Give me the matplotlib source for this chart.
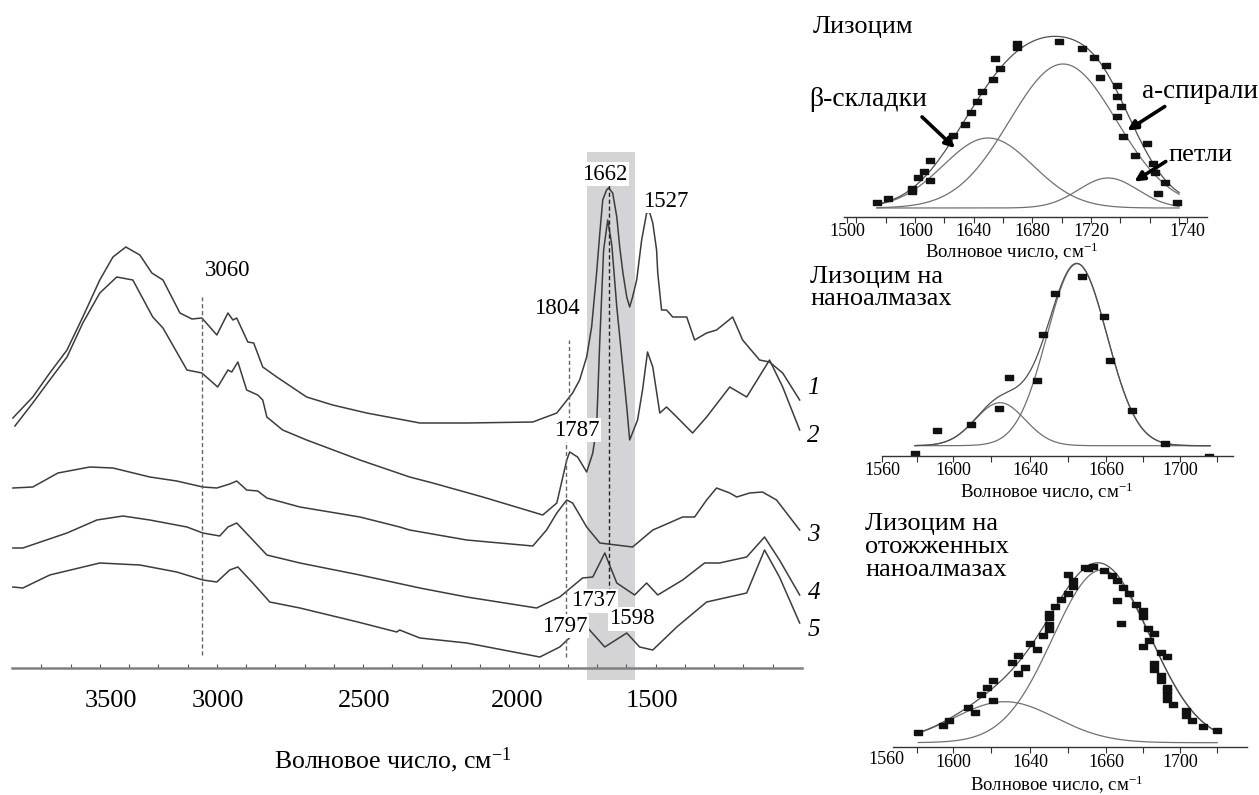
import numpy as np
import matplotlib
matplotlib.use('Agg')
import matplotlib.pyplot as plt

plt.rcParams['font.family'] = ['Liberation Serif', 'DejaVu Serif']
plt.rcParams['mathtext.fontset'] = 'custom'
plt.rcParams['mathtext.rm'] = 'Liberation Serif'
plt.rcParams['mathtext.it'] = 'Liberation Serif:italic'

# ---- main IR spectra (wavenumber, cm-1 / absorbance, offset a.u.)
wn1 = [3697, 3629, 3571, 3512, 3458, 3400, 3355, 3311, 3263, 3222, 3184, 3126, 3085, 3051, 3000,
       2962, 2945, 2932, 2894, 2874, 2843, 2795, 2693, 2604, 2488, 2306, 2146, 1920, 1838, 1784,
       1760, 1736, 1719, 1702, 1691, 1681, 1668, 1661, 1647, 1633, 1623, 1612, 1599, 1589, 1579,
       1565, 1548, 1531, 1521, 1510, 1497, 1493, 1480, 1463, 1442, 1418, 1394, 1367, 1326, 1292,
       1237, 1203, 1145, 1111, 1066, 1008]
ab1 = [2.50, 2.71, 2.95, 3.18, 3.51, 3.88, 4.11, 4.21, 4.13, 3.95, 3.88, 3.55, 3.49, 3.50, 3.33,
       3.55, 3.48, 3.50, 3.26, 3.25, 3.01, 2.91, 2.71, 2.63, 2.55, 2.45, 2.45, 2.46, 2.55, 2.75,
       2.88, 3.11, 3.41, 3.95, 4.35, 4.68, 4.78, 4.80, 4.75, 4.51, 4.21, 3.95, 3.71, 3.61, 3.71,
       3.88, 4.28, 4.55, 4.56, 4.45, 4.18, 3.95, 3.58, 3.58, 3.51, 3.51, 3.51, 3.28, 3.35, 3.38,
       3.51, 3.28, 3.08, 3.06, 2.95, 2.68]

wn2 = [3690, 3629, 3571, 3512, 3458, 3400, 3342, 3287, 3219, 3184, 3102, 3051, 2997, 2962, 2949,
       2928, 2898, 2860, 2843, 2829, 2775, 2693, 2511, 2341, 2262, 2091, 1886, 1838, 1804, 1794,
       1767, 1736, 1715, 1702, 1691, 1678, 1664, 1650, 1633, 1616, 1599, 1589, 1562, 1545, 1528,
       1510, 1486, 1463, 1428, 1374, 1326, 1247, 1189, 1111, 1066, 1008]
ab2 = [2.42, 2.65, 2.88, 3.11, 3.45, 3.75, 3.91, 3.88, 3.51, 3.40, 2.98, 2.95, 2.81, 2.98, 2.96,
       3.06, 2.78, 2.73, 2.68, 2.51, 2.38, 2.28, 2.08, 1.91, 1.85, 1.71, 1.53, 1.65, 2.08, 2.16,
       2.11, 1.96, 2.15, 2.41, 3.28, 4.18, 4.48, 4.23, 3.61, 3.11, 2.61, 2.28, 2.48, 2.78, 3.16,
       3.01, 2.55, 2.61, 2.51, 2.35, 2.51, 2.81, 2.71, 3.08, 2.81, 2.38]

wn3 = [3697, 3629, 3543, 3434, 3355, 3229, 3137, 3048, 3000, 2956, 2932, 2898, 2860, 2829, 2716,
       2511, 2375, 2341, 2146, 1920, 1873, 1838, 1804, 1784, 1736, 1691, 1579, 1510, 1486, 1408,
       1367, 1326, 1292, 1247, 1223, 1179, 1135, 1087, 1008]
ab3 = [1.80, 1.81, 1.95, 2.01, 2.00, 1.91, 1.87, 1.81, 1.80, 1.84, 1.87, 1.78, 1.77, 1.70, 1.61,
       1.51, 1.41, 1.38, 1.28, 1.22, 1.38, 1.55, 1.68, 1.65, 1.41, 1.25, 1.21, 1.38, 1.41, 1.51,
       1.51, 1.68, 1.80, 1.75, 1.71, 1.75, 1.76, 1.68, 1.38]

wn4 = [3697, 3663, 3512, 3410, 3321, 3229, 3102, 3048, 2990, 2962, 2932, 2877, 2829, 2716, 2511,
       2306, 2146, 1907, 1828, 1750, 1715, 1674, 1633, 1572, 1531, 1493, 1408, 1333, 1282, 1189,
       1128, 1077, 1008]
ab4 = [1.20, 1.20, 1.35, 1.48, 1.52, 1.48, 1.41, 1.35, 1.32, 1.41, 1.45, 1.28, 1.13, 1.05, 0.93,
       0.80, 0.71, 0.60, 0.71, 0.90, 0.91, 1.15, 0.85, 0.73, 0.85, 0.73, 0.88, 1.05, 1.05, 1.11,
       1.31, 1.08, 0.73]

wn5 = [3697, 3663, 3571, 3400, 3263, 3137, 3048, 3000, 2956, 2928, 2877, 2819, 2716, 2518, 2385,
       2375, 2306, 2146, 1896, 1828, 1784, 1753, 1732, 1674, 1599, 1555, 1510, 1428, 1326, 1189,
       1128, 1077, 1008]
ab5 = [0.81, 0.80, 0.93, 1.05, 1.03, 0.96, 0.88, 0.86, 0.98, 1.01, 0.85, 0.66, 0.60, 0.46, 0.36,
       0.38, 0.30, 0.25, 0.11, 0.21, 0.33, 0.40, 0.40, 0.21, 0.35, 0.21, 0.18, 0.41, 0.66, 0.75,
       1.18, 0.91, 0.45]

curve_num = ['1', '2', '3', '4', '5']
curve_num_y = [2.80, 2.32, 1.33, 0.75, 0.38]

peak_lbl = ['3060', '1804', '1662', '1527', '1787', '1737', '1598', '1797']
peak_x = [2962, 1838, 1674, 1466, 1770, 1712, 1582, 1811]
peak_y = [3.98, 3.60, 4.94, 4.67, 2.38, 0.67, 0.49, 0.42]

guide_x = [3050, 1797, 1805, 1661]
guide_y0 = [0.13, 2.48, 0.11, 0.48]
guide_y1 = [3.71, 3.28, 2.28, 4.85]

band_lo, band_hi = 1570, 1734

main_tick_pos = [3362, 2997, 2498, 1972, 1514]
main_tick_lbl = ['3500', '3000', '2500', '2000', '1500']

# ---- amide I deconvolution insets
# inset 1: lysozyme
x1s = [1573.9, 1581.8, 1597.8, 1598.2, 1602.3, 1606.1, 1610.2, 1610.2, 1625.7, 1634.1, 1638.2, 1642.1,
       1645.5, 1653.4, 1654.5, 1657.9, 1669.7, 1669.7, 1698.4, 1714.0, 1722.0, 1730.0, 1726.1, 1737.9,
       1737.9, 1740.2, 1737.9, 1750.6, 1742.0, 1750.0, 1757.9, 1762.0, 1763.6, 1770.4, 1765.8, 1778.4]
y1s = [0.06, 0.10, 0.17, 0.20, 0.31, 0.37, 0.48, 0.28, 0.73, 0.84, 0.96, 1.07,
       1.17, 1.29, 1.50, 1.40, 1.65, 1.61, 1.67, 1.60, 1.51, 1.43, 1.31, 1.23,
       1.12, 1.02, 0.92, 0.84, 0.72, 0.53, 0.65, 0.45, 0.36, 0.26, 0.15, 0.06]
c1 = [1649.8, 1700.9, 1731.6]   # beta-sheets, alpha-helices, loops
h1 = [0.70, 1.44, 0.30]
w1 = [72.3, 85.9, 47.7]
rng1 = (1574, 1780)
tick1_pos = [1553.6, 1600, 1640, 1680, 1720, 1785.4]
tick1_lbl = ['1500', '1600', '1640', '1680', '1720', '1740']

# inset 2: lysozyme on nanodiamonds
x2s = [1574.9, 1585.3, 1600.9, 1614.1, 1618.9, 1632.0, 1634.8, 1640.3, 1653.0, 1663.1, 1665.9, 1676.1,
       1691.6, 1712.3]
y2s = [-0.07, 0.16, 0.22, 0.38, 0.69, 0.66, 1.12, 1.53, 1.70, 1.30, 0.86, 0.36, 0.03, -0.10]
c2 = [1614.6, 1650.5]
h2 = [0.43, 1.82]
w2 = [27.5, 33.0]
rng2 = (1574.9, 1712.6)

# inset 3: lysozyme on annealed nanodiamonds
x3s = [1576.5, 1588.2, 1590.9, 1599.8, 1602.9, 1605.6, 1608.4, 1611.5, 1611.5, 1620.1, 1623.1, 1623.0,
       1626.3, 1628.6, 1631.7, 1634.8, 1637.6, 1637.6, 1637.6, 1637.6, 1640.3, 1642.9, 1646.2, 1646.2,
       1648.8, 1648.9, 1654.3, 1655.8, 1657.9, 1663.1, 1666.7, 1669.3, 1669.4, 1672.1, 1674.9, 1670.9,
       1678.1, 1681.2, 1681.2, 1681.2, 1683.8, 1684.3, 1686.5, 1689.6, 1692.7, 1686.5, 1686.5, 1689.6,
       1689.6, 1692.7, 1692.7, 1692.7, 1692.7, 1695.2, 1701.4, 1701.4, 1704.0, 1709.5, 1715.7]
y3s = [0.11, 0.18, 0.23, 0.36, 0.31, 0.49, 0.56, 0.63, 0.43, 0.81, 0.88, 0.70,
       0.76, 1.00, 0.94, 1.08, 1.14, 1.19, 1.26, 1.30, 1.37, 1.44, 1.50, 1.69,
       1.57, 1.63, 1.76, 1.75, 1.77, 1.73, 1.68, 1.63, 1.43, 1.56, 1.50, 1.20,
       1.39, 1.33, 1.27, 0.97, 1.15, 1.03, 1.10, 0.91, 0.87, 0.80, 0.74, 0.68,
       0.63, 0.56, 0.53, 0.49, 0.44, 0.39, 0.33, 0.28, 0.23, 0.17, 0.13]
c3 = [1616.9, 1662.1]
h3 = [0.41, 1.727]
w3 = [56.0, 53.9]
rng3 = (1576.5, 1716.0)
tick23_pos = [1559.5, 1592.7, 1628.6, 1664.1, 1698.6]
tick23_lbl = ['1560', '1600', '1640', '1660', '1700']
minor23 = [1575.9, 1610.4, 1646.3, 1681.3, 1715.9]

W, H = 1259, 795


def box(x0, y0, x1, y1):
    return [x0 / W, 1 - y1 / H, (x1 - x0) / W, (y1 - y0) / H]


def band(x, c, h, fwhm):
    return h * np.exp(-4 * np.log(2) * (x - c) ** 2 / fwhm ** 2)


fig = plt.figure(figsize=(W / 100, H / 100), dpi=100)

# ================= main spectra =================
ax = fig.add_axes(box(12, 140, 802, 690))
ax.set_xlim(3700, 1000)
ax.set_ylim(-0.22, 5.28)
for s in ['left', 'right', 'top']:
    ax.spines[s].set_visible(False)
ax.spines['bottom'].set_position(('data', 0))
ax.spines['bottom'].set_color('#808080')
ax.spines['bottom'].set_linewidth(1.8)
ax.set_yticks([])
ax.set_xticks(main_tick_pos, main_tick_lbl)
ax.set_xticks(np.arange(3600, 1050, -100), minor=True)
ax.tick_params(axis='x', which='major', length=0, pad=16, labelsize=19)
ax.tick_params(axis='x', which='minor', direction='in', length=3, width=0.8, color='#555')

ax.fill_betweenx([-0.12, 5.16], band_hi, band_lo, color='#d4d4d6', lw=0, zorder=0)

for wn, ab in [(wn1, ab1), (wn2, ab2), (wn3, ab3), (wn4, ab4), (wn5, ab5)]:
    ax.plot(wn, ab, color='#3c3c3c', lw=1.1, zorder=3)

for i, gx in enumerate(guide_x):
    col = '#222' if i == 3 else '#666'
    ax.plot([gx, gx], [guide_y0[i], guide_y1[i]], color=col, lw=1.0, ls=(0, (3, 2)), zorder=4)

for t, px, py in zip(peak_lbl, peak_x, peak_y):
    ax.text(px, py, t, ha='center', va='center', fontsize=16.5, zorder=6,
            bbox=dict(facecolor='white', edgecolor='none', pad=1.0))

for t, py in zip(curve_num, curve_num_y):
    ax.text(960, py, t, ha='center', va='center', fontsize=18, style='italic', clip_on=False)

fig.text(393 / W, 1 - 760 / H, 'Волновое число, см$^{-1}$', ha='center', va='center', fontsize=18.5)

rect_marker = [(-1, -0.6), (1, -0.6), (1, 0.6), (-1, 0.6), (-1, -0.6)]


def inset(rect, xlim, ylim, xs, ys, cs, hs, ws, rng, tpos, tlbl, minor):
    a = fig.add_axes(rect)
    a.set_xlim(*xlim)
    a.set_ylim(*ylim)
    for s in ['left', 'right', 'top']:
        a.spines[s].set_visible(False)
    a.spines['bottom'].set_color('#333')
    a.spines['bottom'].set_linewidth(1.0)
    a.set_yticks([])
    a.set_xticks(tpos, tlbl)
    a.set_xticks(minor, minor=True)
    a.tick_params(axis='x', which='both', direction='out', length=4, width=0.8, color='#333',
                  labelsize=13, pad=0.5)
    xx = np.linspace(rng[0], rng[1], 400)
    total = np.zeros_like(xx)
    for c, h, w in zip(cs, hs, ws):
        comp = band(xx, c, h, w)
        total += comp
        a.plot(xx, comp, color='#707070', lw=0.9)
    a.plot(xx, total, color='#505050', lw=0.9)
    a.plot(xs, ys, ls='none', marker=rect_marker, ms=6, color='#111')
    return a


# ---- inset 1
a1 = inset(box(844, 10, 1207, 217), (1551.6, 1799.0), (-0.09, 1.98), x1s, y1s, c1, h1, w1, rng1,
           tick1_pos, tick1_lbl, np.arange(1560, 1800, 20))
fig.text(813 / W, 1 - 27 / H, 'Лизоцим', ha='left', va='center', fontsize=19)
fig.text(868 / W, 1 - 100 / H, 'β-складки', ha='center', va='center', fontsize=20)
fig.text(1200 / W, 1 - 92 / H, 'а-спирали', ha='center', va='center', fontsize=19.5)
fig.text(1201 / W, 1 - 155 / H, 'петли', ha='center', va='center', fontsize=19)
fig.text(1012 / W, 1 - 252 / H, 'Волновое число, см$^{-1}$', ha='center', va='center', fontsize=13.5)
arrow = dict(arrowstyle='-|>', color='black', lw=2.6, mutation_scale=14)
a1.annotate('', xy=(1628.6, 0.58), xytext=(1603.4, 0.93), arrowprops=arrow, annotation_clip=False)
a1.annotate('', xy=(1743.1, 0.76), xytext=(1771.8, 1.03), arrowprops=arrow, annotation_clip=False)
a1.annotate('', xy=(1747.9, 0.25), xytext=(1772.5, 0.48), arrowprops=arrow, annotation_clip=False)

# ---- inset 2
inset(box(882, 255, 1233, 456), (1559.5, 1723.3), (-0.103, 1.907), x2s, y2s, c2, h2, w2, rng2,
      tick23_pos, tick23_lbl, minor23)
fig.text(810 / W, 1 - 288 / H, 'Лизоцим на\nнаноалмазах', ha='left', va='center', fontsize=19,
         linespacing=1.03)
fig.text(1047 / W, 1 - 492 / H, 'Волновое число, см$^{-1}$', ha='center', va='center', fontsize=13.5)

# ---- inset 3
inset(box(893, 560, 1247, 747.3), (1564.7, 1729.9), (-0.046, 1.827), x3s, y3s, c3, h3, w3, rng3,
      tick23_pos[1:], tick23_lbl[1:], minor23)
fig.text(886 / W, 1 - 760 / H, '1560', ha='center', va='center', fontsize=13)
fig.text(865 / W, 1 - 547 / H, 'Лизоцим на\nотожженных\nнаноалмазах', ha='left', va='center',
         fontsize=19, linespacing=1.07)
fig.text(1057 / W, 1 - 785 / H, 'Волновое число, см$^{-1}$', ha='center', va='center', fontsize=13.5)

fig.savefig('out.png', dpi=100)
